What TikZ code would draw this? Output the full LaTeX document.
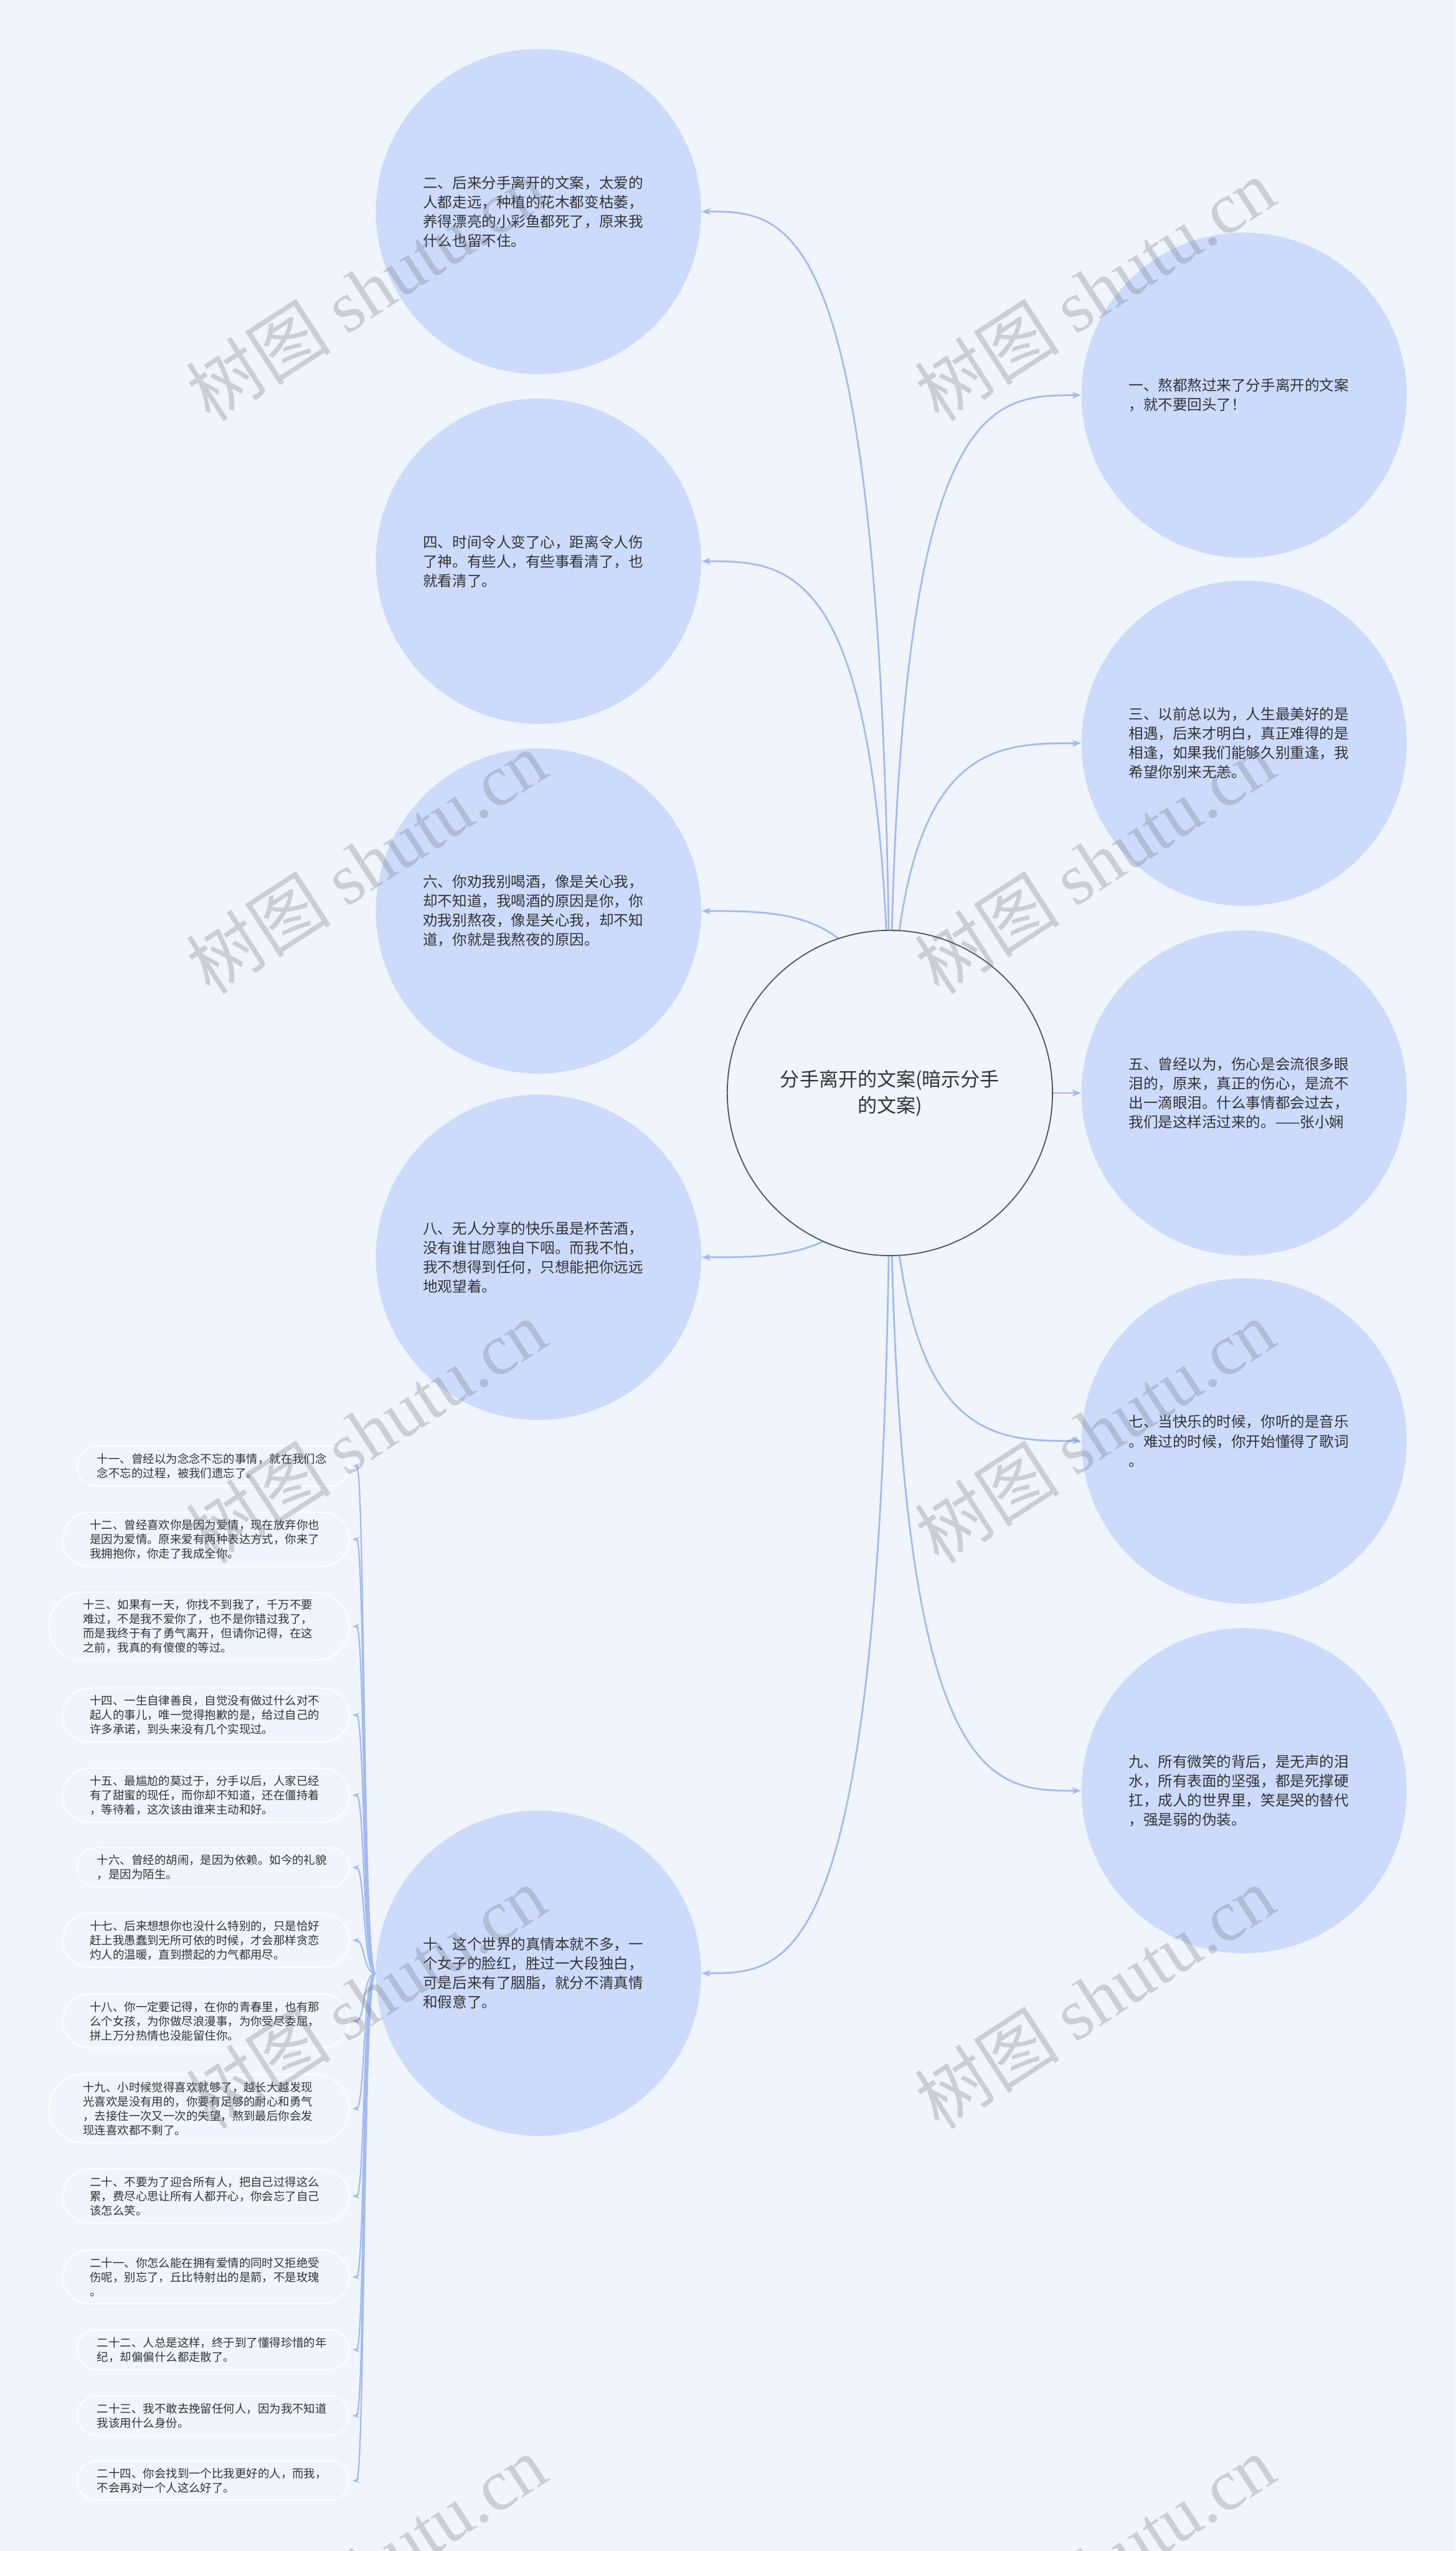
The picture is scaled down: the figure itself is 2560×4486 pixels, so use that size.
\documentclass[tikz,border=0pt]{standalone}
\usepackage{fontspec}
\setmainfont{Noto Sans CJK SC}
\newfontfamily\wmlatin{Liberation Serif}
\usetikzlibrary{shapes.misc,arrows.meta,calc}
\definecolor{bgc}{RGB}{240,244,252}
\definecolor{circ}{RGB}{204,219,252}
\definecolor{edgec}{RGB}{160,187,240}
\definecolor{txt}{RGB}{51,51,51}
\definecolor{cbord}{RGB}{85,85,85}
\definecolor{wmc}{RGB}{110,110,120}
\pgfdeclarelayer{bglayer}
\pgfdeclarelayer{edges}
\pgfdeclarelayer{wm}
\pgfsetlayers{bglayer,edges,main,wm}
\tikzset{
  big/.style={circle, fill=circ, minimum size=143pt, inner sep=0pt, text width=101.5pt, align=left, text=txt, font=\fontsize{6.45pt}{8.5pt}\selectfont},
  hub/.style={circle, draw=cbord, line width=0.5pt, fill=bgc, minimum size=143pt, inner sep=0pt, align=center, text=txt, font=\fontsize{8.5pt}{11.5pt}\selectfont},
  pill/.style={rectangle, rounded corners=#1, inner xsep=#1, draw=white, line width=0.5pt, fill=bgc, text width=102pt, align=left, inner ysep=3.2pt, text=txt, font=\fontsize{5.05pt}{6.3pt}\selectfont, anchor=east},
  conn/.style={draw=edgec, line width=0.75pt, -{Stealth[length=4pt,width=3pt]}},
  lconn/.style={draw=edgec, line width=0.6pt, -{Stealth[length=3pt,width=2.2pt]}},
  wmark/.style={rotate=33, text=wmc, opacity=0.28, font=\fontsize{32pt}{34pt}\selectfont}
}
\begin{document}
\begin{tikzpicture}[x=0.25pt,y=-0.25pt]
\begin{pgfonlayer}{bglayer}
\fill[bgc] (0,0) rectangle (2560,4486);
\end{pgfonlayer}
\useasboundingbox (0,0) rectangle (2560,4486);

\node[hub] (c) at (1565,1922) {分手离开的文案(暗示分手\\的文案)};

\node[big] (n2) at (947,372) {二、后来分手离开的文案，太爱的\\人都走远，种植的花木都变枯萎，\\养得漂亮的小彩鱼都死了，原来我\\什么也留不住。};
\node[big] (n4) at (947,987) {四、时间令人变了心，距离令人伤\\了神。有些人，有些事看清了，也\\就看清了。};
\node[big] (n6) at (947,1602) {六、你劝我别喝酒，像是关心我，\\却不知道，我喝酒的原因是你，你\\劝我别熬夜，像是关心我，却不知\\道，你就是我熬夜的原因。};
\node[big] (n8) at (947,2211) {八、无人分享的快乐虽是杯苦酒，\\没有谁甘愿独自下咽。而我不怕，\\我不想得到任何，只想能把你远远\\地观望着。};
\node[big] (n10) at (947,3470) {十、这个世界的真情本就不多，一\\个女子的脸红，胜过一大段独白，\\可是后来有了胭脂，就分不清真情\\和假意了。};

\node[big] (n1) at (2188,695) {一、熬都熬过来了分手离开的文案\\，就不要回头了！};
\node[big] (n3) at (2188,1307) {三、以前总以为，人生最美好的是\\相遇，后来才明白，真正难得的是\\相逢，如果我们能够久别重逢，我\\希望你别来无恙。};
\node[big] (n5) at (2188,1922) {五、曾经以为，伤心是会流很多眼\\泪的，原来，真正的伤心，是流不\\出一滴眼泪。什么事情都会过去，\\我们是这样活过来的。——张小娴};
\node[big] (n7) at (2188,2534) {七、当快乐的时候，你听的是音乐\\。难过的时候，你开始懂得了歌词\\。};
\node[big] (n9) at (2188,3149) {九、所有微笑的背后，是无声的泪\\水，所有表面的坚强，都是死撑硬\\扛，成人的世界里，笑是哭的替代\\，强是弱的伪装。};

\node[pill=8.8pt] (p11) at (615,2578) {十一、曾经以为念念不忘的事情，就在我们念\\念不忘的过程，被我们遗忘了。};
\node[pill=12pt] (p12) at (615,2707) {十二、曾经喜欢你是因为爱情，现在放弃你也\\是因为爱情。原来爱有两种表达方式，你来了\\我拥抱你，你走了我成全你。};
\node[pill=15pt] (p13) at (615,2860) {十三、如果有一天，你找不到我了，千万不要\\难过，不是我不爱你了，也不是你错过我了，\\而是我终于有了勇气离开，但请你记得，在这\\之前，我真的有傻傻的等过。};
\node[pill=12pt] (p14) at (615,3016) {十四、一生自律善良，自觉没有做过什么对不\\起人的事儿，唯一觉得抱歉的是，给过自己的\\许多承诺，到头来没有几个实现过。};
\node[pill=12pt] (p15) at (615,3157) {十五、最尴尬的莫过于，分手以后，人家已经\\有了甜蜜的现任，而你却不知道，还在僵持着\\，等待着，这次该由谁来主动和好。};
\node[pill=8.8pt] (p16) at (615,3284) {十六、曾经的胡闹，是因为依赖。如今的礼貌\\，是因为陌生。};
\node[pill=12pt] (p17) at (615,3412) {十七、后来想想你也没什么特别的，只是恰好\\赶上我愚蠢到无所可依的时候，才会那样贪恋\\灼人的温暖，直到攒起的力气都用尽。};
\node[pill=12pt] (p18) at (615,3554) {十八、你一定要记得，在你的青春里，也有那\\么个女孩，为你做尽浪漫事，为你受尽委屈，\\拼上万分热情也没能留住你。};
\node[pill=15pt] (p19) at (615,3708) {十九、小时候觉得喜欢就够了，越长大越发现\\光喜欢是没有用的，你要有足够的耐心和勇气\\，去接住一次又一次的失望，熬到最后你会发\\现连喜欢都不剩了。};
\node[pill=12pt] (p20) at (615,3862) {二十、不要为了迎合所有人，把自己过得这么\\累，费尽心思让所有人都开心，你会忘了自己\\该怎么笑。};
\node[pill=12pt] (p21) at (615,4004) {二十一、你怎么能在拥有爱情的同时又拒绝受\\伤呢，别忘了，丘比特射出的是箭，不是玫瑰\\。};
\node[pill=8.8pt] (p22) at (615,4132) {二十二、人总是这样，终于到了懂得珍惜的年\\纪，却偏偏什么都走散了。};
\node[pill=8.8pt] (p23) at (615,4248) {二十三、我不敢去挽留任何人，因为我不知道\\我该用什么身份。};
\node[pill=8.8pt] (p24) at (615,4362) {二十四、你会找到一个比我更好的人，而我，\\不会再对一个人这么好了。};

\begin{pgfonlayer}{edges}
\foreach \t/\a in {n2/east,n4/east,n6/east,n8/east,n10/east,n1/west,n3/west,n5/west,n7/west,n9/west}
  \draw[conn] (c.center) .. controls (c.center |- \t.\a) and ($(c.center |- \t.\a)!0.5!(\t.\a)$) .. (\t.\a);
\foreach \p in {p11,p12,p13,p14,p15,p16,p17,p18,p19,p20,p21,p22,p23,p24}
  \draw[lconn] (n10.west) .. controls +(-22,0) and +(22,0) .. ([xshift=1.2pt]\p.east);
\end{pgfonlayer}

\begin{pgfonlayer}{wm}
\foreach \y [count=\i] in {509,1516,2517,3512,4513} {
  \node[wmark] (wl\i) at (644,\y) {树图 {\wmlatin shutu.cn}};
  \node[wmark] (wr\i) at (1925,\y) {树图 {\wmlatin shutu.cn}};
}
\end{pgfonlayer}
\end{tikzpicture}
\end{document}
